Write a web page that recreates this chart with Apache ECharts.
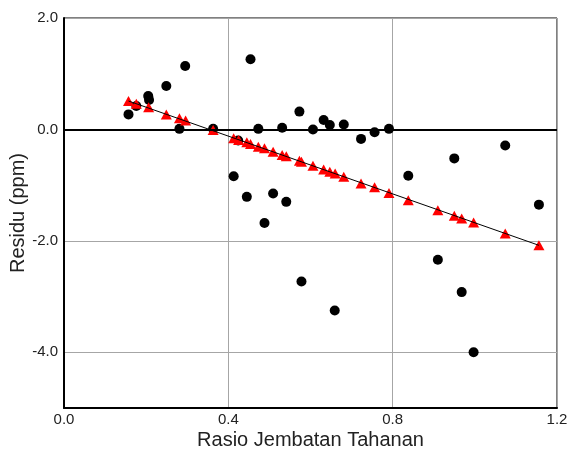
<!DOCTYPE html>
<html>
<head>
<meta charset="utf-8">
<script src="https://cdn.jsdelivr.net/npm/echarts@6/dist/echarts.min.js"></script>
<style>
  html, body { margin: 0; padding: 0; background: #fff; }
  #main { width: 571px; height: 449px; }
</style>
</head>
<body>
<div id="main"></div>
<script>
//初始化图表
var myChart = echarts.init(document.getElementById("main"));

// residu terukur (titik hitam)
var obsX = [0.157, 0.176, 0.205, 0.207, 0.249, 0.281, 0.295, 0.363, 0.413, 0.424,
  0.445, 0.454, 0.473, 0.488, 0.509, 0.531, 0.541, 0.573, 0.578, 0.606,
  0.632, 0.647, 0.659, 0.681, 0.723, 0.756, 0.791, 0.838, 0.910, 0.950,
  0.968, 0.997, 1.074, 1.156];
var obsY = [0.27, 0.42, 0.60, 0.53, 0.78, 0.01, 1.14, 0.01, -0.84, -0.20,
  -1.21, 1.26, 0.01, -1.68, -1.15, 0.03, -1.30, 0.32, -2.73, 0.00,
  0.17, 0.08, -3.25, 0.09, -0.17, -0.05, 0.01, -0.83, -2.34, -0.52,
  -2.92, -4.00, -0.29, -1.35];

// residu model (segitiga merah)
var modX = [0.157, 0.176, 0.206, 0.249, 0.281, 0.296, 0.363, 0.413, 0.425, 0.445,
  0.454, 0.473, 0.488, 0.509, 0.531, 0.541, 0.573, 0.578, 0.606, 0.632,
  0.647, 0.660, 0.681, 0.723, 0.756, 0.791, 0.838, 0.910, 0.950, 0.968,
  0.997, 1.074, 1.156];
var modY = [0.51, 0.46, 0.40, 0.27, 0.20, 0.16, -0.01, -0.16, -0.19, -0.23,
  -0.26, -0.31, -0.34, -0.40, -0.46, -0.48, -0.56, -0.58, -0.65, -0.72,
  -0.76, -0.79, -0.85, -0.97, -1.04, -1.14, -1.27, -1.45, -1.55, -1.60,
  -1.67, -1.87, -2.08];

// garis regresi
var fitX = [0.157, 1.156];
var fitY = [0.51, -2.08];

var obs = obsX.map(function (e, i) {
  return [e, obsY[i]];
});
var mod = modX.map(function (e, i) {
  return [e, modY[i]];
});
var fit = fitX.map(function (e, i) {
  return [e, fitY[i]];
});

var labelFont = {
  color: '#222',
  fontFamily: 'Liberation Sans',
  fontSize: 15
};
var nameFont = {
  color: '#222',
  fontFamily: 'Liberation Sans',
  fontSize: 20
};

var option = {
  animation: false,
  grid: {
    left: 64,
    right: 14,
    top: 18,
    bottom: 41,
    outerBoundsMode: 'none',
    show: true,
    borderColor: '#000',
    borderWidth: 1
  },
  xAxis: {
    type: 'value',
    min: 0,
    max: 1.2,
    interval: 0.4,
    name: 'Rasio Jembatan Tahanan',
    nameLocation: 'middle',
    nameGap: 22,
    nameMoveOverlap: false,
    nameTextStyle: nameFont,
    axisLine: {show: true, onZero: false, lineStyle: {color: '#000', width: 2}},
    axisTick: {show: false},
    axisLabel: Object.assign({
      margin: 4,
      formatter: function (v) {
        return v.toFixed(1);
      }
    }, labelFont),
    splitLine: {show: true, lineStyle: {color: '#a6a6a6', width: 1}}
  },
  yAxis: {
    type: 'value',
    min: -5,
    max: 2,
    interval: 1,
    name: 'Residu (ppm)',
    nameLocation: 'middle',
    nameGap: 36,
    nameMoveOverlap: false,
    nameTextStyle: nameFont,
    axisLine: {show: true, onZero: false, lineStyle: {color: '#000', width: 2}},
    axisTick: {show: false},
    axisLabel: Object.assign({
      margin: 6,
      formatter: function (v) {
        return v % 2 === 0 ? v.toFixed(1) : '';
      }
    }, labelFont),
    splitLine: {show: true, lineStyle: {color: ['rgba(0,0,0,0)', '#a6a6a6'], width: 1}}
  },
  series: [
    {
      name: 'garis',
      type: 'line',
      data: fit,
      symbol: 'none',
      lineStyle: {color: '#000', width: 1},
      markLine: {
        silent: true,
        symbol: 'none',
        label: {show: false},
        lineStyle: {color: '#000', width: 2, type: 'solid'},
        data: [{yAxis: 0}]
      }
    },
    {
      name: 'terukur',
      type: 'scatter',
      data: obs,
      symbol: 'circle',
      symbolSize: 10,
      itemStyle: {color: '#000', opacity: 1}
    },
    {
      name: 'model',
      type: 'scatter',
      data: mod,
      symbol: 'triangle',
      symbolSize: [11, 10],
      itemStyle: {color: '#ff0000', opacity: 1}
    }
  ]
};

myChart.setOption(option);
</script>
</body>
</html>
